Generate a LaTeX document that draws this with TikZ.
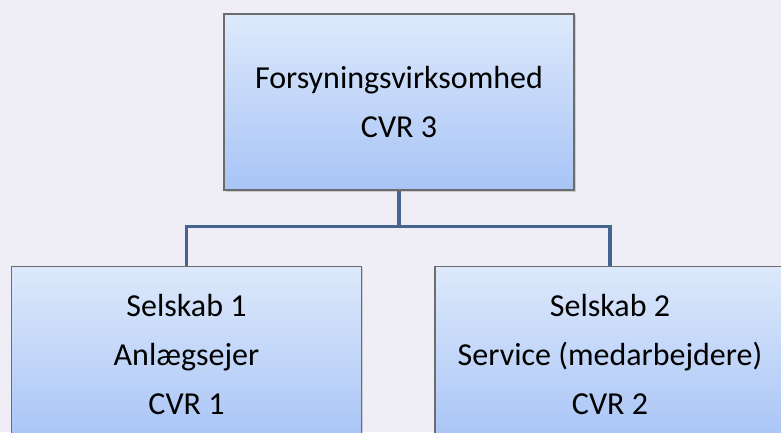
\documentclass[tikz,border=0pt]{standalone}
\usepackage{fontspec}
\setmainfont{Carlito}
\usepackage{tikz}
\usetikzlibrary{positioning}
\usetikzlibrary{shadows}
\definecolor{bgcol}{HTML}{EFEEF6}
\definecolor{boxtop}{HTML}{DDE9FB}
\definecolor{boxbot}{HTML}{A8C4F6}
\definecolor{linecol}{HTML}{44658F}
\tikzstyle{box} = [draw=gray!85!black, line width=1.2pt, rectangle,
    top color=boxtop, bottom color=boxbot,
    drop shadow={opacity=0.3, shadow xshift=1.5pt, shadow yshift=-1.5pt},
    minimum width=350pt, minimum height=176pt, align=center,
    font=\fontsize{32}{49}\selectfont]
\tikzstyle{branch} = [coordinate]
\tikzstyle{link} = [draw=linecol, line width=3.5pt]

\begin{document}
\begin{tikzpicture}[x=1pt, y=1pt, node distance=75pt]
      \fill [bgcol] (0,0) rectangle (781,432);
      \useasboundingbox (0,0) rectangle (781,432);

      \node [box] (top) at (399,330) {Forsyningsvirksomhed\\CVR 3};
      \node [box, below=of top, xshift=-212.5pt] (sel1) {Selskab 1\\Anlægsejer\\CVR 1};
      \node [box, below=of top, xshift=211pt] (sel2) {Selskab 2\\Service (medarbejdere)\\CVR 2};
      \node [branch, below=36pt of top] (split) {};

      \draw [link] (top.south) -- (split);
      \draw [link] (sel1.north) |- (split) -| (sel2.north);
    \end{tikzpicture}
\end{document}
